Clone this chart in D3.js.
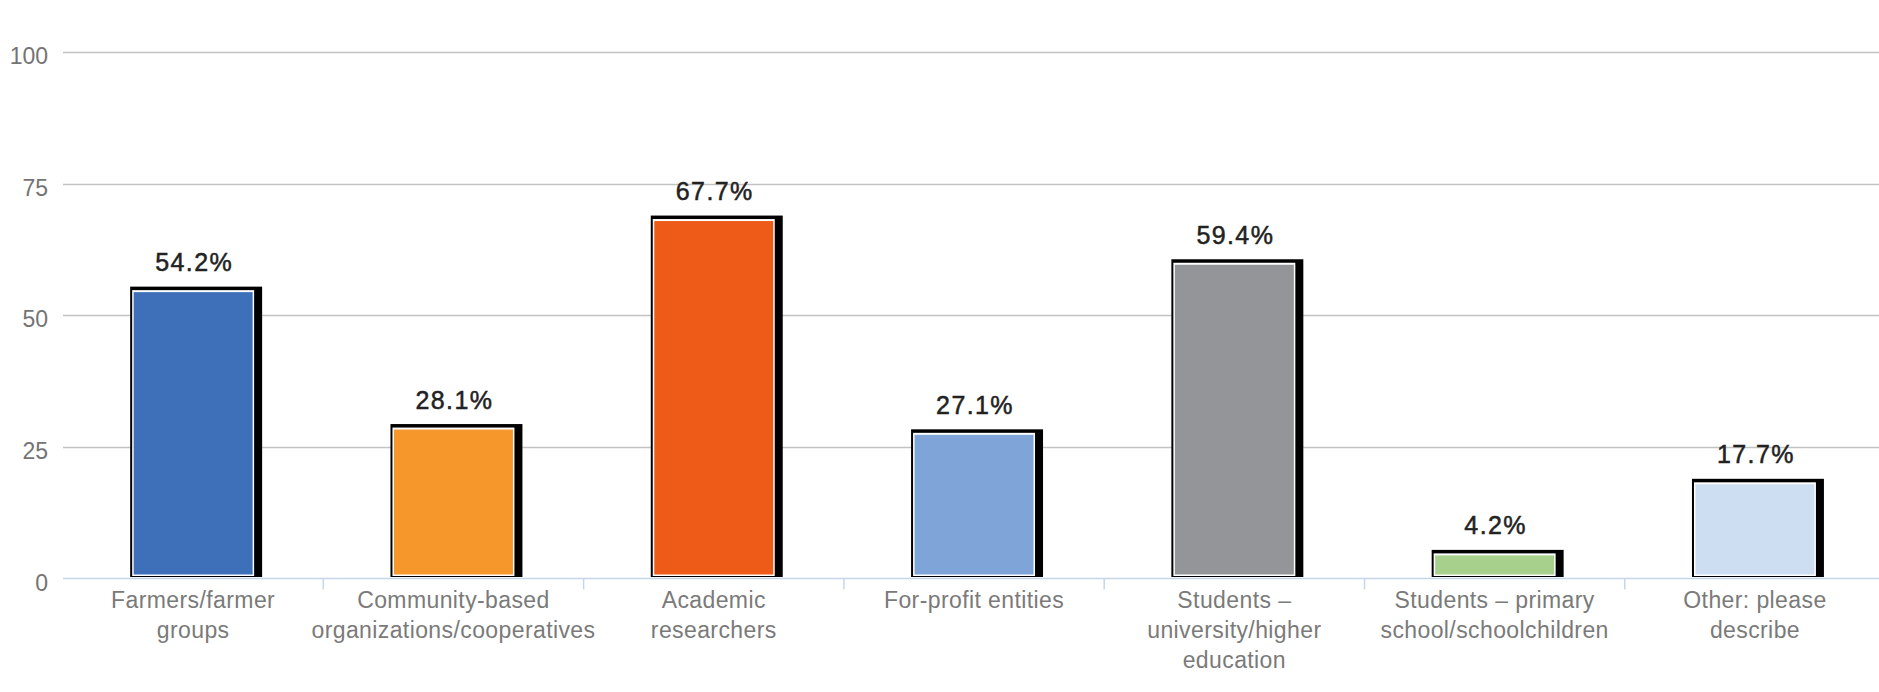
<!DOCTYPE html>
<html>
<head>
<meta charset="utf-8">
<script src="https://cdn.jsdelivr.net/npm/d3@7"></script>
<style>
html,body{margin:0;padding:0;background:#fff;}
svg{display:block;}
text{font-family:"Liberation Sans",Arial,sans-serif;}
</style>
</head>
<body>
<svg id="chart" width="1879" height="692"></svg>
<script>
const categories = [
  ["Farmers/farmer", "groups"],
  ["Community-based", "organizations/cooperatives"],
  ["Academic", "researchers"],
  ["For-profit entities"],
  ["Students \u2013", "university/higher", "education"],
  ["Students \u2013 primary", "school/schoolchildren"],
  ["Other: please", "describe"]
];
const values = [54.2, 28.1, 67.7, 27.1, 59.4, 4.2, 17.7];
const colors = ["#3e70b9", "#f5972a", "#ee5a18", "#7fa4d7", "#949598", "#a7d08c", "#cdddf2"];
const yTicks = [0, 25, 50, 75, 100];

const svg = d3.select("#chart");
const W = 1879;
const left = 63, bandW = 260.3;
const ids = categories.map((c, i) => i);
const x = d3.scaleBand().domain(ids).range([left, left + bandW * ids.length]).padding(0);
const y = d3.scaleLinear().domain([0, 100]).range([578.5, 52]);
const base = y(0);

// gridlines
svg.append("g").selectAll("line").data(yTicks.filter(t => t > 0)).join("line")
  .attr("x1", left).attr("x2", W)
  .attr("y1", d => Math.round(y(d)) + 0.5).attr("y2", d => Math.round(y(d)) + 0.5)
  .attr("stroke", "#c3c3c3").attr("stroke-width", 1.5);

// y tick labels
svg.append("g").selectAll("text").data(yTicks).join("text")
  .attr("x", 48).attr("y", d => y(d) + 4).attr("dy", "0.35em")
  .attr("text-anchor", "end").attr("font-size", 23).attr("fill", "#747474")
  .text(d => d);

// bars
const fw = bandW * 0.457;
const bars = svg.append("g").selectAll("g").data(ids).join("g");
bars.append("rect")
  .attr("x", i => x(i) + bandW / 2 - fw / 2 - 3.5)
  .attr("y", i => y(values[i]) - 6.5)
  .attr("width", fw + 13)
  .attr("height", i => base - 1.5 - (y(values[i]) - 6.5))
  .attr("fill", "#000");
bars.append("rect")
  .attr("x", i => x(i) + bandW / 2 - fw / 2 - 1.5)
  .attr("y", i => y(values[i]) - 3)
  .attr("width", fw + 3)
  .attr("height", i => base - 2.5 - (y(values[i]) - 3))
  .attr("fill", "#fff");
bars.append("rect")
  .attr("x", i => x(i) + bandW / 2 - fw / 2)
  .attr("y", i => y(values[i]) - 1)
  .attr("width", fw)
  .attr("height", i => base - 4 - (y(values[i]) - 1))
  .attr("fill", i => colors[i]);

// value labels
svg.append("g").selectAll("text").data(ids).join("text")
  .attr("x", i => x(i) + bandW / 2 + 1)
  .attr("y", i => y(values[i]) - 22)
  .attr("text-anchor", "middle").attr("font-size", 25).attr("fill", "#222")
  .attr("stroke", "#222").attr("stroke-width", 0.5)
  .attr("letter-spacing", "1.4px")
  .text(i => values[i].toFixed(1) + "%");

// x axis baseline
svg.append("line").attr("x1", left).attr("x2", W)
  .attr("y1", base).attr("y2", base)
  .attr("stroke", "#c6d6ea").attr("stroke-width", 1.5);
// boundary ticks
svg.append("g").selectAll("line").data(ids.slice(1)).join("line")
  .attr("x1", i => x(i)).attr("x2", i => x(i))
  .attr("y1", base).attr("y2", base + 11)
  .attr("stroke", "#c6d6ea").attr("stroke-width", 1.5);

// category labels
const cl = svg.append("g").selectAll("text").data(ids).join("text")
  .attr("text-anchor", "middle").attr("font-size", 23).attr("fill", "#7a7a7a")
  .attr("letter-spacing", "0.4px");
cl.each(function(i) {
  const t = d3.select(this);
  categories[i].forEach((line, k) => {
    t.append("tspan").attr("x", x(i) + bandW / 2).attr("y", 608 + k * 30).text(line);
  });
});
</script>
</body>
</html>
